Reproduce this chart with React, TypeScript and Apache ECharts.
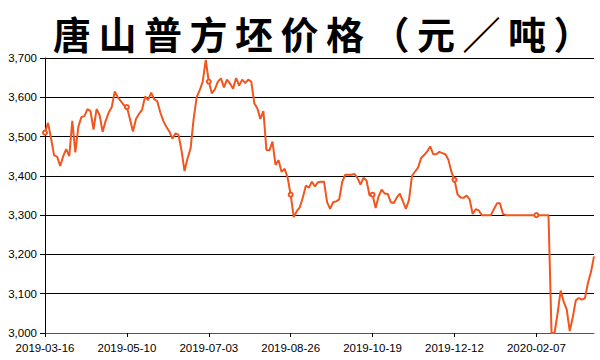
import React, { useEffect, useRef } from "react";
import * as echarts from "echarts";

const titleText = "唐山普方坯价格（元／吨）";
const labelDates = ["2019-03-16", "2019-05-10", "2019-07-03", "2019-08-26", "2019-10-19", "2019-12-12", "2020-02-07"];
const yTicks = [3000, 3100, 3200, 3300, 3400, 3500, 3600, 3700];

const priceValues = [
  3510, 3535, 3495, 3452, 3449, 3425, 3450, 3468, 3450, 3540,
  3460, 3525, 3550, 3552, 3570, 3565, 3518, 3570, 3555, 3512,
  3540, 3561, 3575, 3615, 3600, 3590, 3580, 3575, 3545, 3513,
  3545, 3558, 3568, 3602, 3593, 3612, 3595, 3590, 3562, 3540,
  3525, 3513, 3495, 3508, 3505, 3465, 3412, 3445, 3470, 3545,
  3600, 3618, 3640, 3695, 3640, 3610, 3620, 3640, 3648, 3625,
  3645, 3635, 3622, 3649, 3630, 3645, 3636, 3645, 3640, 3585,
  3572, 3545, 3565, 3466, 3465, 3487, 3428, 3440, 3410, 3418,
  3395, 3352, 3295, 3310, 3320, 3345, 3375, 3370, 3385, 3373,
  3384, 3385, 3385, 3333, 3316, 3333, 3335, 3340, 3385, 3403,
  3403, 3403, 3405, 3395, 3378, 3395, 3388, 3350, 3352, 3318,
  3348, 3365, 3355, 3354, 3333, 3331, 3345, 3355, 3335, 3316,
  3339, 3400, 3411, 3421, 3445, 3453, 3462, 3475, 3455, 3455,
  3461, 3458, 3455, 3441, 3410, 3390, 3353, 3345, 3344, 3350,
  3340, 3303, 3315, 3312, 3300, 3300, 3300, 3300, 3315, 3330,
  3330, 3303, 3300, 3300, 3300, 3300, 3300, 3300, 3300, 3300,
  3300, 3300, 3300, 3300, 3300, 3300, 3300, 3000, 3000, 3050,
  3108, 3080, 3060, 3005, 3040, 3083, 3089, 3085, 3088, 3127,
  3155, 3195,
];

const STEPS_PER_LABEL = 27;

function fmt(d: Date): string {
  const y = d.getUTCFullYear();
  const m = String(d.getUTCMonth() + 1).padStart(2, "0");
  const dd = String(d.getUTCDate()).padStart(2, "0");
  return `${y}-${m}-${dd}`;
}

function buildCategories(count: number): string[] {
  const out: string[] = [];
  const day = 86400000;
  for (let i = 0; i < count; i++) {
    const seg = Math.floor(i / STEPS_PER_LABEL);
    const k = i % STEPS_PER_LABEL;
    const a = Date.parse(labelDates[Math.min(seg, labelDates.length - 1)] + "T00:00:00Z");
    let span = 54;
    if (seg + 1 < labelDates.length) {
      const b = Date.parse(labelDates[seg + 1] + "T00:00:00Z");
      span = Math.round((b - a) / day);
    }
    out.push(fmt(new Date(a + Math.round((k * span) / STEPS_PER_LABEL) * day)));
  }
  return out;
}

const categories = buildCategories(priceValues.length);

export default function App() {
  const ref = useRef<HTMLDivElement>(null);
  useEffect(() => {
    if (!ref.current) return;
    const el = ref.current;
    const chart = echarts.init(el, undefined, { renderer: "svg" });
    const axisFont = { fontFamily: "Liberation Sans", fontSize: 11.5, color: "#000" };
    const spaceTitle = () => {
      el.querySelectorAll("text").forEach((t) => {
        if (t.textContent === titleText) {
          (t as SVGTextElement).style.letterSpacing = "7.5px";
        }
      });
    };
    chart.on("finished", spaceTitle);
    chart.setOption({
      animation: false,
      backgroundColor: "#fff",
      title: {
        text: titleText,
        left: 48,
        top: 8,
        textStyle: {
          fontFamily: "Noto Sans CJK SC",
          fontWeight: "bold",
          fontSize: 38,
          color: "#000",
        },
      },
      grid: { left: 45, right: 6, top: 58, bottom: 27, containLabel: false },
      xAxis: {
        type: "category",
        data: categories,
        boundaryGap: false,
        axisLine: { lineStyle: { color: "#555", width: 1 } },
        axisTick: { interval: STEPS_PER_LABEL - 1, length: 4, lineStyle: { color: "#000" } },
        axisLabel: { interval: STEPS_PER_LABEL - 1, margin: 9, ...axisFont },
        splitLine: { show: false },
      },
      yAxis: {
        type: "value",
        min: yTicks[0],
        max: yTicks[yTicks.length - 1],
        interval: 100,
        axisLine: { show: true, lineStyle: { color: "#000", width: 1 } },
        axisTick: { show: true, length: 5, lineStyle: { color: "#000" } },
        axisLabel: { margin: 8, ...axisFont },
        splitLine: { lineStyle: { color: "#000", width: 1 } },
      },
      series: [
        {
          type: "line",
          data: priceValues,
          symbol: "emptyCircle",
          symbolSize: 4,
          showAllSymbol: "auto",
          lineStyle: { color: "#f0561e", width: 2 },
          itemStyle: { color: "#f0561e", borderColor: "#d8a8a0", borderWidth: 1 },
        },
      ],
    });
    spaceTitle();
    const raf = requestAnimationFrame(spaceTitle);
    const tm = setTimeout(spaceTitle, 50);
    return () => {
      cancelAnimationFrame(raf);
      clearTimeout(tm);
      chart.dispose();
    };
  }, []);
  return (
    <div
      ref={ref}
      style={{ position: "fixed", left: 0, top: 0, width: 600, height: 360, background: "#fff" }}
    />
  );
}
